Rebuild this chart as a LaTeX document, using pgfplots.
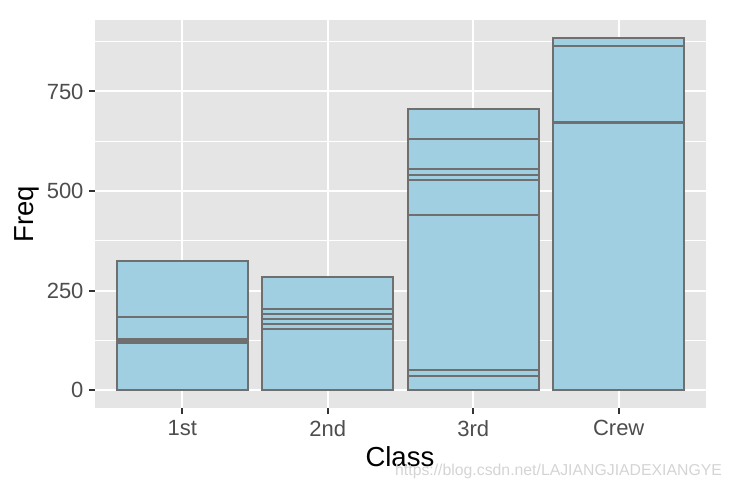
\documentclass[border=0pt]{standalone}
\usepackage{fontspec}
\setmainfont{Liberation Sans}
\usepackage{pgfplots}
\pgfplotsset{compat=1.18}
\definecolor{bggrey}{HTML}{E5E5E5}
\definecolor{barfill}{HTML}{9FCFE0}
\definecolor{baredge}{HTML}{6F6F6F}
\definecolor{ticktext}{HTML}{4D4D4D}
\definecolor{tickmark}{HTML}{333333}
\definecolor{wm}{HTML}{D4D4D4}

\begin{document}
\begin{tikzpicture}
\useasboundingbox (0,0) rectangle (734bp,488bp);
\begin{axis}[
    at={(95bp,80bp)}, anchor=south west, scale only axis,
    width=611bp, height=388bp,
    xmin=-0.6, xmax=3.6, ymin=-44.25, ymax=929.25,
    ybar stacked, bar width=0.9,
    axis background/.style={fill=bggrey},
    axis line style={draw=none},
    xtick={0,1,2,3}, xticklabels={1st,2nd,3rd,Crew},
    ytick={0,250,500,750}, minor ytick={125,375,625,875},
    xmajorgrids, ymajorgrids, yminorgrids,
    major grid style={white, line width=2bp},
    minor grid style={white, line width=1bp},
    tick align=outside, xtick pos=bottom, ytick pos=left,
    major tick length=6bp, minor tick length=0pt,
    tick style={tickmark, line width=2bp},
    /pgf/number format/assume math mode=true,
    tick label style={text=ticktext, font=\fontsize{22bp}{22bp}\selectfont},
    xticklabel style={yshift=-3bp},
    yticklabel style={xshift=-2bp},
    xlabel={Class}, ylabel={Freq},
    every axis x label/.style={at={(axis description cs:0.499,-0.1495)}, anchor=base,
        font=\fontsize{27.5bp}{27.5bp}\selectfont},
    every axis y label/.style={at={(axis description cs:-0.111,0.5)}, rotate=90, anchor=center,
        font=\fontsize{27.5bp}{27.5bp}\selectfont},
    every axis plot post/.append style={fill=barfill, draw=baredge, line width=2bp},
]
% Titanic: Sex x Age x Survived, stacked from the bottom
\addplot coordinates {(0,0) (1,0) (2,35) (3,0)};      % Male Child No
\addplot coordinates {(0,0) (1,0) (2,17) (3,0)};      % Female Child No
\addplot coordinates {(0,118) (1,154) (2,387) (3,670)}; % Male Adult No
\addplot coordinates {(0,4) (1,13) (2,89) (3,3)};     % Female Adult No
\addplot coordinates {(0,5) (1,11) (2,13) (3,0)};     % Male Child Yes
\addplot coordinates {(0,1) (1,13) (2,14) (3,0)};     % Female Child Yes
\addplot coordinates {(0,57) (1,14) (2,75) (3,192)};  % Male Adult Yes
\addplot coordinates {(0,140) (1,80) (2,76) (3,20)};  % Female Adult Yes
\end{axis}
\node[anchor=base west, text=wm, font=\fontsize{15.8bp}{15.8bp}\selectfont, inner sep=0pt]
    at (395bp,13bp) {https://blog.csdn.net/LAJIANGJIADEXIANGYE};
\end{tikzpicture}
\end{document}
